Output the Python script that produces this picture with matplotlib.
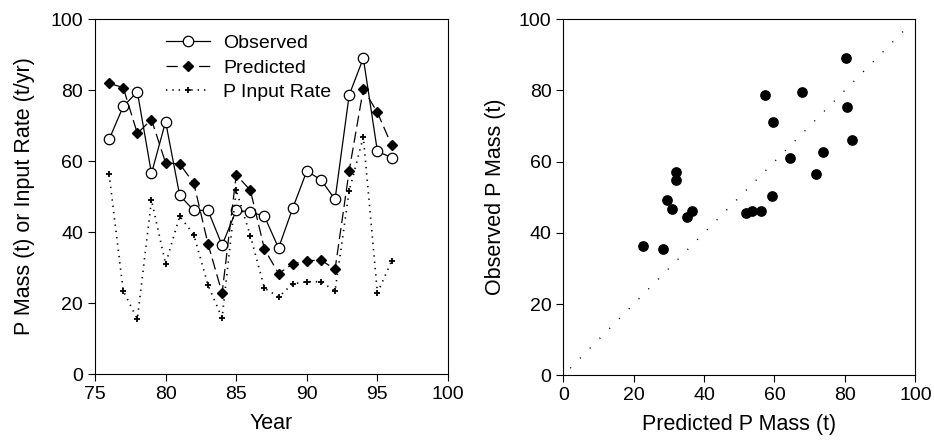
import matplotlib
matplotlib.use("Agg")
import matplotlib.pyplot as plt
import numpy as np

plt.rcParams["font.family"] = ["Liberation Sans", "DejaVu Sans"]
plt.rcParams["font.size"] = 14

years = np.arange(76, 97)
observed = [66.1, 75.4, 79.5, 56.5, 71.1, 50.3, 46.1, 46.1, 36.3, 46.1, 45.7,
            44.4, 35.5, 46.7, 57.2, 54.7, 49.2, 78.6, 89.0, 62.7, 61.0]
predicted = [81.9, 80.7, 67.8, 71.7, 59.5, 59.2, 53.7, 36.7, 22.8, 56.1, 51.8,
             35.2, 28.3, 31.0, 31.9, 32.1, 29.5, 57.3, 80.3, 73.7, 64.5]
input_rate = [56.3, 23.4, 15.5, 49.0, 31.0, 44.5, 39.2, 25.1, 15.8, 51.8, 39.0,
              24.2, 21.7, 25.4, 26.0, 26.0, 23.4, 51.6, 66.8, 22.8, 31.8]

fig = plt.figure(figsize=(9.34, 4.47), dpi=100)
ax1 = fig.add_axes([0.1017, 0.1633, 0.378, 0.794])
ax2 = fig.add_axes([0.603, 0.1603, 0.377, 0.797])

# left panel: time series
ax1.plot(years, observed, color="black", lw=0.9, marker="o", ms=7.5,
         mfc="white", mec="black", mew=0.9, label="Observed")
ax1.plot(years, predicted, color="black", lw=0.9, ls=(0, (9, 4)), marker="D",
         ms=5, mfc="black", mec="black", label="Predicted")
ax1.plot(years, input_rate, color="black", lw=1.2, ls=(0, (0.8, 3)),
         marker="+", ms=4, mew=1.3, label="P Input Rate")
ax1.set_xlim(75, 100)
ax1.set_ylim(0, 100)
ax1.set_xticks(range(75, 101, 5))
ax1.set_yticks(range(0, 101, 20))
ax1.set_xlabel("Year", fontsize=15.5, labelpad=7)
ax1.set_ylabel("P Mass (t) or Input Rate (t/yr)", fontsize=15.5, labelpad=11)
ax1.legend(loc="upper left", bbox_to_anchor=(0.2, 0.957), frameon=False,
           borderaxespad=0, borderpad=0, handlelength=2.3,
           handletextpad=0.65, labelspacing=0.36, fontsize=14)

# right panel: observed vs predicted
ax2.scatter(predicted, observed, s=45, color="black", zorder=3)
ax2.plot([2, 97], [2, 97], color="black", lw=1.0, ls=(0, (0.8, 9.2)))
ax2.set_xlim(0, 100)
ax2.set_ylim(0, 100)
ax2.set_xticks(range(0, 101, 20))
ax2.set_yticks(range(0, 101, 20))
ax2.set_xlabel("Predicted P Mass (t)", fontsize=15.5, labelpad=7)
ax2.set_ylabel("Observed P Mass (t)", fontsize=15.5, labelpad=9)

for ax in (ax1, ax2):
    ax.tick_params(direction="out", length=5, width=0.8, labelsize=14,
                   top=False, right=False)
    for sp in ax.spines.values():
        sp.set_linewidth(0.8)

fig.savefig("out.png", dpi=100)
